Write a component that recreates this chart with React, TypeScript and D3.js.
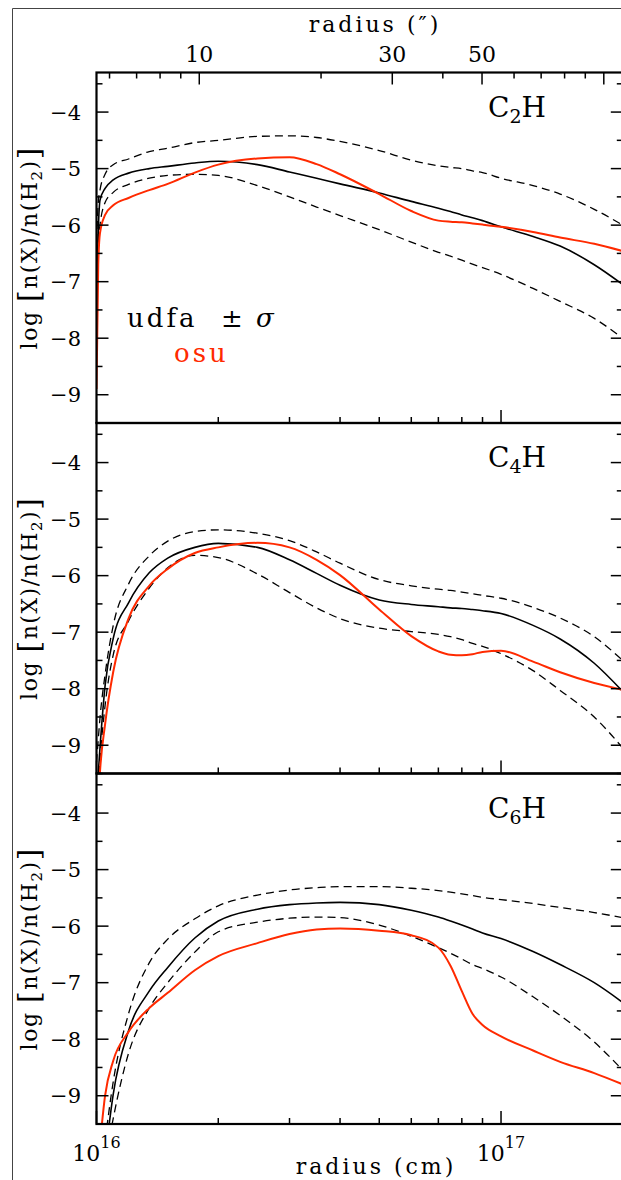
import * as d3 from "d3"

// radius grid in units of 1e16 cm
const radius16 = [1.0, 1.01, 1.02, 1.05, 1.1, 1.2, 1.35, 1.5, 1.75, 2, 2.5, 3, 3.5, 4, 5, 6, 7, 7.5, 8, 8.5, 9, 10, 12, 14, 17, 20]

// log n(X)/n(H2) — udfa mean, +sigma, -sigma and osu
const c2hMean = [-7.3, -6.1, -5.56, -5.35, -5.2, -5.08, -5.0, -4.96, -4.9, -4.87, -4.93, -5.06, -5.17, -5.27, -5.43, -5.58, -5.7, -5.76, -5.82, -5.87, -5.92, -6.03, -6.2, -6.37, -6.7, -7.05]
const c2hUpper = [-6.3, -5.6, -5.38, -5.1, -4.93, -4.83, -4.7, -4.64, -4.54, -4.5, -4.43, -4.42, -4.45, -4.52, -4.68, -4.85, -4.95, -4.98, -5.0, -5.04, -5.07, -5.17, -5.3, -5.45, -5.72, -6.0]
const c2hLower = [-7.0, -6.3, -6.0, -5.6, -5.42, -5.28, -5.17, -5.12, -5.1, -5.12, -5.3, -5.5, -5.68, -5.83, -6.08, -6.3, -6.48, -6.55, -6.62, -6.69, -6.75, -6.87, -7.12, -7.35, -7.65, -8.0]
const c2hOsu = [-8.9, -6.7, -6.14, -5.82, -5.65, -5.52, -5.38, -5.27, -5.07, -4.93, -4.82, -4.8, -4.92, -5.1, -5.45, -5.75, -5.92, -5.94, -5.95, -5.97, -5.99, -6.03, -6.12, -6.22, -6.33, -6.46]

const c4hMean = [-9.9, -9.5, -9.05, -7.95, -7.11, -6.48, -5.95, -5.69, -5.5, -5.43, -5.5, -5.72, -5.96, -6.17, -6.43, -6.51, -6.55, -6.57, -6.58, -6.6, -6.62, -6.67, -6.88, -7.12, -7.55, -8.05]
const c4hUpper = [-9.3, -8.9, -8.52, -7.75, -6.88, -6.15, -5.65, -5.39, -5.22, -5.19, -5.25, -5.38, -5.58, -5.78, -6.07, -6.18, -6.24, -6.26, -6.29, -6.32, -6.35, -6.4, -6.56, -6.75, -7.08, -7.5]
const c4hLower = [-10.2, -9.7, -9.25, -8.3, -7.4, -6.8, -6.22, -5.86, -5.64, -5.68, -5.97, -6.3, -6.57, -6.76, -6.93, -6.99, -7.04, -7.08, -7.13, -7.2, -7.25, -7.38, -7.68, -8.03, -8.5, -9.05]
const c4hOsu = [null, -10.0, -9.47, -8.63, -7.7, -6.76, -6.18, -5.88, -5.6, -5.5, -5.42, -5.5, -5.72, -5.99, -6.6, -7.07, -7.34, -7.4, -7.41, -7.39, -7.35, -7.33, -7.52, -7.71, -7.9, -8.02]

const c6hMean = [null, null, null, -10.1, -8.97, -7.85, -7.15, -6.73, -6.21, -5.91, -5.7, -5.62, -5.59, -5.58, -5.62, -5.72, -5.84, -5.91, -5.98, -6.05, -6.12, -6.22, -6.45, -6.68, -7.0, -7.35]
const c6hUpper = [null, null, null, -9.8, -8.75, -7.55, -6.65, -6.23, -5.87, -5.64, -5.45, -5.36, -5.32, -5.3, -5.3, -5.33, -5.37, -5.4, -5.43, -5.46, -5.49, -5.53, -5.6, -5.67, -5.76, -5.85]
const c6hLower = [null, null, null, -10.2, -9.4, -8.25, -7.45, -7.0, -6.46, -6.1, -5.93, -5.86, -5.84, -5.85, -5.98, -6.18, -6.38, -6.48, -6.58, -6.68, -6.75, -6.9, -7.25, -7.58, -8.05, -8.55]
const c6hOsu = [null, null, -9.85, -9.0, -8.38, -7.87, -7.45, -7.18, -6.78, -6.53, -6.3, -6.14, -6.06, -6.04, -6.08, -6.16, -6.38, -6.7, -7.15, -7.55, -7.75, -7.95, -8.2, -8.4, -8.6, -8.8]

const species = ["2", "4", "6"]
const yTicks = [-4, -5, -6, -7, -8, -9]
const yMinor = [-3.5, -4.5, -5.5, -6.5, -7.5, -8.5, -9.5]
const cmMajor = [1e16, 1e17]
const cmExp = ["16", "17"]
const cmMinor = [2e16, 3e16, 4e16, 5e16, 6e16, 7e16, 8e16, 9e16]
const arcMajor = [10, 30, 50, 100]
const arcLabels = [10, 30, 50]
const arcMinor = [6, 7, 8, 9, 20, 40, 60, 70, 80, 90]

const CM_PER_ARCSEC = 1.795e15 // 120 pc
const FONT = "'DejaVu Serif', 'Liberation Serif', serif"
const RED = "#ff2a00"

const W = 621
const H = 1180
const left = 96.5
const right = 622.8
const top0 = 72.5
const panelH = 350.5

export default function App() {
  const x = d3.scaleLog().domain([1e16, 2e17]).range([left, right])
  const xArc = d3.scaleLog().domain([1e16 / CM_PER_ARCSEC, 2e17 / CM_PER_ARCSEC]).range([left, right])

  const panels = [
    { sub: species[0], mean: c2hMean, upper: c2hUpper, lower: c2hLower, osu: c2hOsu },
    { sub: species[1], mean: c4hMean, upper: c4hUpper, lower: c4hLower, osu: c4hOsu },
    { sub: species[2], mean: c6hMean, upper: c6hUpper, lower: c6hLower, osu: c6hOsu },
  ]

  return (
    <svg width={W} height={H} style={{ position: "absolute", left: 0, top: 0 }} fontFamily={FONT}>
      <rect x={0} y={0} width={W} height={H} fill="#fff" />
      <line x1={12.5} x2={W} y1={8.5} y2={8.5} stroke="#444" strokeWidth={1} />
      <line x1={12.5} x2={12.5} y1={8.5} y2={H} stroke="#444" strokeWidth={1} />

      {/* top arcsec axis */}
      <text x={375} y={32} fontSize={22} letterSpacing={3} textAnchor="middle">radius (″)</text>
      {arcLabels.map((v) => (
        <text key={v} x={xArc(v)} y={62} fontSize={22} textAnchor="middle">{v}</text>
      ))}
      {arcMajor.map((v) => (
        <line key={v} x1={xArc(v)} x2={xArc(v)} y1={top0} y2={top0 + 12} stroke="#000" strokeWidth={1.5} />
      ))}
      {arcMinor.map((v) => (
        <line key={v} x1={xArc(v)} x2={xArc(v)} y1={top0} y2={top0 + 6} stroke="#000" strokeWidth={1.5} />
      ))}

      {panels.map((p, i) => {
        const top = top0 + i * panelH
        const bottom = top + panelH
        const y = d3.scaleLinear().domain([-9.5, -3.3]).range([bottom, top])
        const line = (vals: (number | null)[]) =>
          d3
            .line<number>()
            .defined((_, j) => vals[j] != null)
            .x((r) => x(r * 1e16))
            .y((_, j) => y(vals[j] as number))
            .curve(d3.curveMonotoneX)(radius16) || ""
        const clipId = `clip${i}`
        return (
          <g key={i}>
            <clipPath id={clipId}>
              <rect x={left} y={top} width={right - left} height={panelH} />
            </clipPath>
            <g clipPath={`url(#${clipId})`} fill="none">
              <path d={line(p.upper)} stroke="#000" strokeWidth={1.3} strokeDasharray="8,5" />
              <path d={line(p.lower)} stroke="#000" strokeWidth={1.3} strokeDasharray="8,5" />
              <path d={line(p.mean)} stroke="#000" strokeWidth={1.6} />
              <path d={line(p.osu)} stroke={RED} strokeWidth={2} />
            </g>

            {/* y ticks, both sides */}
            {yTicks.map((v) => (
              <g key={v}>
                <line x1={left} x2={left + 12} y1={y(v)} y2={y(v)} stroke="#000" strokeWidth={1.5} />
                <line x1={right - 12} x2={right} y1={y(v)} y2={y(v)} stroke="#000" strokeWidth={1.5} />
                <text x={81} y={y(v) + 7.5} fontSize={21} textAnchor="end">{"\u2212" + Math.abs(v)}</text>
              </g>
            ))}
            {yMinor.map((v) => (
              <g key={v}>
                <line x1={left} x2={left + 6} y1={y(v)} y2={y(v)} stroke="#000" strokeWidth={1.5} />
                <line x1={right - 6} x2={right} y1={y(v)} y2={y(v)} stroke="#000" strokeWidth={1.5} />
              </g>
            ))}

            {/* cm ticks on the bottom edge */}
            {cmMajor.map((v) => (
              <line key={v} x1={x(v)} x2={x(v)} y1={bottom} y2={bottom - 13} stroke="#000" strokeWidth={1.5} />
            ))}
            {cmMinor.map((v) => (
              <line key={v} x1={x(v)} x2={x(v)} y1={bottom} y2={bottom - 6} stroke="#000" strokeWidth={1.5} />
            ))}

            <rect x={left} y={top} width={right - left} height={panelH} fill="none" stroke="#000" strokeWidth={2.2} />

            {/* species */}
            <text x={488} y={top + 44} fontSize={28}>
              C<tspan fontSize={19} dy={6}>{p.sub}</tspan>
              <tspan dy={-6}>H</tspan>
            </text>

            {/* y label */}
            <text transform={`translate(37, ${top + panelH / 2}) rotate(-90)`} fontSize={22} letterSpacing={1.5} textAnchor="middle">
              log <tspan fontSize={30} dy={2}>[</tspan>
              <tspan dy={-2}>n(X)/n(H</tspan>
              <tspan fontSize={15} dy={5}>2</tspan>
              <tspan dy={-5}>)</tspan>
              <tspan fontSize={30} dy={2}>]</tspan>
            </text>
          </g>
        )
      })}

      {/* legend */}
      <text x={127} y={327} fontSize={26} letterSpacing={3}>udfa</text>
      <text x={232} y={327} fontSize={26} textAnchor="middle">±</text>
      <text x={256} y={327} fontSize={26} fontStyle="italic">σ</text>
      <text x={174} y={362} fontSize={26} letterSpacing={3} fill={RED}>osu</text>

      {/* bottom axis labels */}
      {cmMajor.map((v, i) => (
        <text key={v} x={x(v)} y={1161} fontSize={22} textAnchor="middle">
          10<tspan fontSize={16} dy={-13}>{cmExp[i]}</tspan>
        </text>
      ))}
      <text x={376} y={1174} fontSize={22} letterSpacing={3} textAnchor="middle">radius (cm)</text>
    </svg>
  )
}
